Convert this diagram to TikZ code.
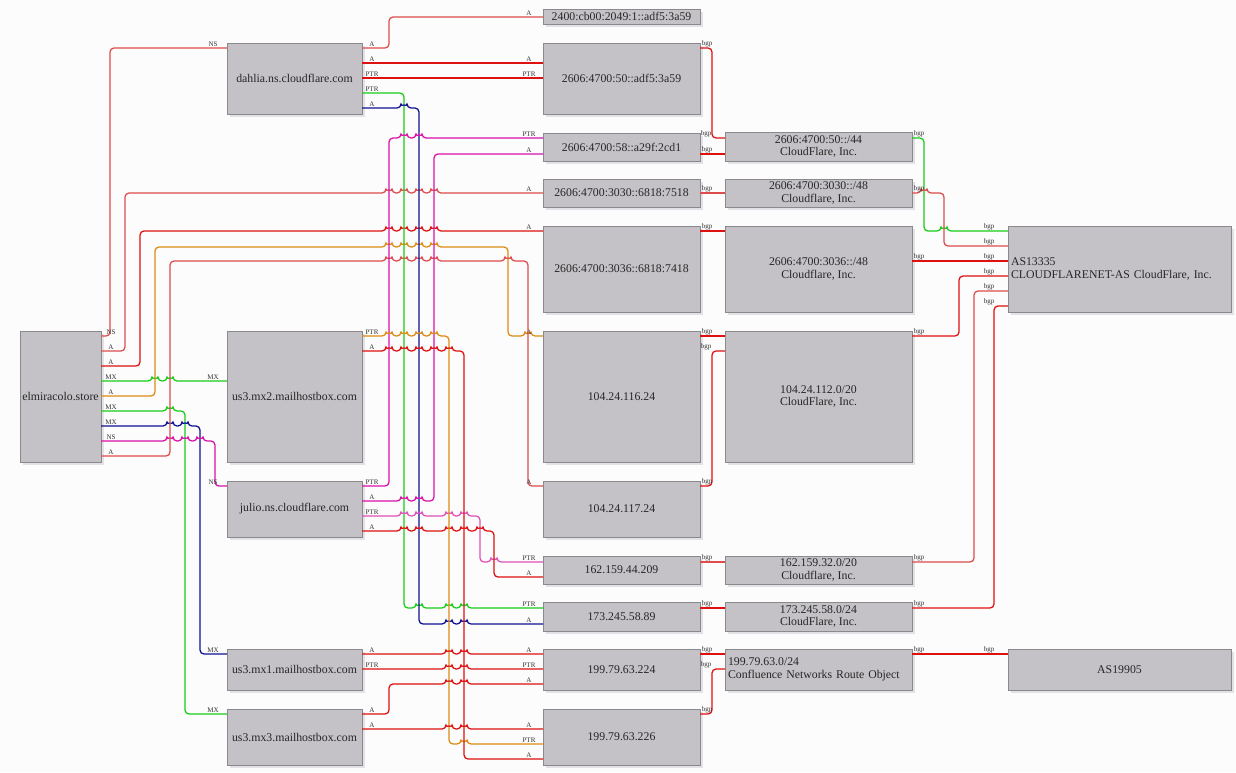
\documentclass[tikz,border=0pt]{standalone}
\usepackage{fontspec}
\setmainfont{Liberation Serif}
\usetikzlibrary{shadows}

\definecolor{boxfill}{RGB}{196,194,198}
\definecolor{boxline}{RGB}{138,138,140}
\definecolor{boxshadow}{RGB}{226,226,230}
\definecolor{pagebg}{RGB}{251,252,251}
\definecolor{lred}{RGB}{222,16,16}
\definecolor{lredpale}{RGB}{222,76,76}
\definecolor{lgreen}{RGB}{24,204,24}
\definecolor{lblue}{RGB}{16,16,150}
\definecolor{lmag}{RGB}{218,16,170}
\definecolor{lmagpale}{RGB}{224,80,184}
\definecolor{lorange}{RGB}{220,140,20}

\tikzset{
  host/.style={draw=boxline, fill=boxfill, line width=0.9pt, inner sep=0pt,
    outer sep=0pt, align=center, text=black!85,
    font=\fontsize{11.8}{12.5}\selectfont,
    drop shadow={shadow xshift=3pt, shadow yshift=-3pt, fill=boxshadow, opacity=1}},
  colA/.style={host, minimum width=81pt},
  colB/.style={host, minimum width=135pt},
  colC/.style={host, minimum width=157pt},
  colD/.style={host, minimum width=187pt},
  colE/.style={host, minimum width=223pt},
  leftD/.style={colD, text width=181pt, inner xsep=3pt, align=left},
  leftE/.style={colE, text width=217pt, inner xsep=3pt, align=left},
  rec/.style={line width=1.25pt, rounded corners=4pt},
  ered/.style={rec, draw=lred},
  eredp/.style={rec, draw=lredpale},
  egreen/.style={rec, draw=lgreen},
  eblue/.style={rec, draw=lblue},
  emag/.style={rec, draw=lmag},
  emagp/.style={rec, draw=lmagpale},
  eorange/.style={rec, draw=lorange},
  elab/.style={font=\fontsize{7}{7}\selectfont, inner sep=0.6pt, anchor=south, text=black!80},
  taillab/.style={elab, xshift=10pt},
  headlab/.style={elab, xshift=-14pt},
  bgptail/.style={elab, xshift=7pt},
  bgphead/.style={elab, xshift=-19pt},
}
% small hops where a horizontal run crosses a vertical one
\newcommand{\hop}[2]{\foreach \j in {#1}{ -- (\j-3,#2) arc[start angle=180, end angle=360, radius=3] }}

\begin{document}
\begin{tikzpicture}[x=1pt, y=-1pt]
\useasboundingbox[fill=pagebg] (0,0) rectangle (1236,772);

% domain and name servers
\node[colA, minimum height=131pt] (elm) at (60.5,396.5) {elmiracolo.store};
\node[colB, minimum height=71pt] (dahlia) at (294.5,78.5) {dahlia.ns.cloudflare.com};
\node[colB, minimum height=131pt] (mxtwo) at (294.5,396.5) {us3.mx2.mailhostbox.com};
\node[colB, minimum height=56pt] (julio) at (294.5,509) {julio.ns.cloudflare.com};
\node[colB, minimum height=41pt] (mxone) at (294.5,669.5) {us3.mx1.mailhostbox.com};
\node[colB, minimum height=56pt] (mxthree) at (294.5,737) {us3.mx3.mailhostbox.com};

% addresses
\node[colC, minimum height=15pt] (vsixa) at (621.5,16.5) {2400:cb00:2049:1::adf5:3a59};
\node[colC, minimum height=71pt] (vsixb) at (621.5,78.5) {2606:4700:50::adf5:3a59};
\node[colC, minimum height=28pt] (vsixc) at (621.5,147) {2606:4700:58::a29f:2cd1};
\node[colC, minimum height=28pt] (vsixd) at (621.5,193) {2606:4700:3030::6818:7518};
\node[colC, minimum height=86pt] (vsixe) at (621.5,269) {2606:4700:3036::6818:7418};
\node[colC, minimum height=131pt] (ipsixteen) at (621.5,396.5) {104.24.116.24};
\node[colC, minimum height=56pt] (ipseventeen) at (621.5,509) {104.24.117.24};
\node[colC, minimum height=28pt] (ipcf) at (621.5,570) {162.159.44.209};
\node[colC, minimum height=29pt] (ipcfb) at (621.5,616.5) {173.245.58.89};
\node[colC, minimum height=41pt] (ipmxa) at (621.5,669.5) {199.79.63.224};
\node[colC, minimum height=56pt] (ipmxb) at (621.5,737) {199.79.63.226};

% prefixes
\node[colD, minimum height=29pt] (pfxfifty) at (818.5,146.5) {2606:4700:50::/44\\CloudFlare, Inc.};
\node[colD, minimum height=28pt] (pfxthirty) at (818.5,193) {2606:4700:3030::/48\\Cloudflare, Inc.};
\node[colD, minimum height=86pt] (pfxsix) at (818.5,269) {2606:4700:3036::/48\\Cloudflare, Inc.};
\node[colD, minimum height=131pt] (pfxoneofour) at (818.5,396.5) {104.24.112.0/20\\CloudFlare, Inc.};
\node[colD, minimum height=28pt] (pfxcf) at (818.5,570) {162.159.32.0/20\\Cloudflare, Inc.};
\node[colD, minimum height=29pt] (pfxcfb) at (818.5,616.5) {173.245.58.0/24\\CloudFlare, Inc.};
\node[leftD, minimum height=41pt] (pfxmx) at (818.5,669.5) {199.79.63.0/24\\Confluence Networks Route Object};

% autonomous systems
\node[leftE, minimum height=86pt] (ascf) at (1119.5,269) {AS13335\\CLOUDFLARENET-AS CloudFlare, Inc.};
\node[colE, minimum height=41pt] (asmx) at (1119.5,669.5) {AS19905};

% records of elmiracolo.store
\draw[eredp] (elm.east|-0,336) node[taillab]{NS} -| (110,48) -- (dahlia.west|-0,48) node[headlab]{NS};
\draw[eredp] (elm.east|-0,351) node[taillab]{A} -| (125,193) \hop{389,404,419,434}{193} -- (vsixd.west|-0,193) node[headlab]{A};
\draw[ered] (elm.east|-0,366) node[taillab]{A} -| (140,231) \hop{389,404,419,434}{231} -- (vsixe.west|-0,231) node[headlab]{A};
\draw[egreen] (elm.east|-0,381) node[taillab]{MX} \hop{155,170}{381} -- (mxtwo.west|-0,381) node[headlab]{MX};
\draw[eorange] (elm.east|-0,396) node[taillab]{A} -| (155,247) \hop{389,404,419,434}{247} -| (508,336) \hop{528}{336} -- (ipsixteen.west|-0,336) node[headlab]{A};
\draw[egreen] (elm.east|-0,411) node[taillab]{MX} \hop{170}{411} -| (185,714) -- (mxthree.west|-0,714) node[headlab]{MX};
\draw[eblue] (elm.east|-0,426) node[taillab]{MX} \hop{170,185}{426} -| (200,654) -- (mxone.west|-0,654) node[headlab]{MX};
\draw[emag] (elm.east|-0,441) node[taillab]{NS} \hop{170,185,200}{441} -| (215,486) -- (julio.west|-0,486) node[headlab]{NS};
\draw[eredp] (elm.east|-0,456) node[taillab]{A} -| (170,261) \hop{389,404,419,434,508}{261} -| (528,486) -- (ipseventeen.west|-0,486) node[headlab]{A};

% records of the name servers
\draw[eredp] (dahlia.east|-0,48) node[taillab]{A} -| (389,17) -- (vsixa.west|-0,17) node[headlab]{A};
\draw[ered] (dahlia.east|-0,63) node[taillab]{A} -- (vsixb.west|-0,63) node[headlab]{A};
\draw[ered] (dahlia.east|-0,78) node[taillab]{PTR} -- (vsixb.west|-0,78) node[headlab]{PTR};
\draw[egreen] (dahlia.east|-0,93) node[taillab]{PTR} -| (404,608) \hop{419,449,464}{608} -- (ipcfb.west|-0,608) node[headlab]{PTR};
\draw[eblue] (dahlia.east|-0,108) node[taillab]{A} \hop{404}{108} -| (419,624) \hop{449,464}{624} -- (ipcfb.west|-0,624) node[headlab]{A};
\draw[emag] (julio.east|-0,486) node[taillab]{PTR} -| (389,138) \hop{404,419}{138} -- (vsixc.west|-0,138) node[headlab]{PTR};
\draw[emag] (julio.east|-0,501) node[taillab]{A} \hop{404,419}{501} -| (434,154) -- (vsixc.west|-0,154) node[headlab]{A};
\draw[emagp] (julio.east|-0,516) node[taillab]{PTR} \hop{404,419,449,464}{516} -| (480,562) \hop{494}{562} -- (ipcf.west|-0,562) node[headlab]{PTR};
\draw[ered] (julio.east|-0,531) node[taillab]{A} \hop{404,419,449,464,480}{531} -| (494,577) -- (ipcf.west|-0,577) node[headlab]{A};

% records of the mail hosts
\draw[eorange] (mxtwo.east|-0,336) node[taillab]{PTR} \hop{389,404,419,434}{336} -| (449,744) \hop{464}{744} -- (ipmxb.west|-0,744) node[headlab]{PTR};
\draw[ered] (mxtwo.east|-0,351) node[taillab]{A} \hop{389,404,419,434,449}{351} -| (464,759) -- (ipmxb.west|-0,759) node[headlab]{A};
\draw[ered] (mxone.east|-0,654) node[taillab]{A} \hop{449,464}{654} -- (ipmxa.west|-0,654) node[headlab]{A};
\draw[ered] (mxone.east|-0,669) node[taillab]{PTR} \hop{449,464}{669} -- (ipmxa.west|-0,669) node[headlab]{PTR};
\draw[ered] (mxthree.east|-0,714) node[taillab]{A} -| (389,684) \hop{449,464}{684} -- (ipmxa.west|-0,684) node[headlab]{A};
\draw[ered] (mxthree.east|-0,729) node[taillab]{A} \hop{449,464}{729} -- (ipmxb.west|-0,729) node[headlab]{A};

% bgp: address to prefix
\draw[ered] (vsixb.east|-0,48) node[bgptail]{bgp} -| (712,138) -- (pfxfifty.west|-0,138) node[bgphead]{bgp};
\draw[ered] (vsixc.east|-0,154) node[bgptail]{bgp} -- (pfxfifty.west|-0,154);
\draw[eredp] (vsixd.east|-0,193) node[bgptail]{bgp} -- (pfxthirty.west|-0,193);
\draw[ered] (vsixe.east|-0,231) node[bgptail]{bgp} -- (pfxsix.west|-0,231);
\draw[ered] (ipsixteen.east|-0,336) node[bgptail]{bgp} -- (pfxoneofour.west|-0,336);
\draw[ered] (ipseventeen.east|-0,486) node[bgptail]{bgp} -| (712,351) -- (pfxoneofour.west|-0,351) node[bgphead]{bgp};
\draw[eredp] (ipcf.east|-0,562) node[bgptail]{bgp} -- (pfxcf.west|-0,562);
\draw[ered] (ipcfb.east|-0,608) node[bgptail]{bgp} -- (pfxcfb.west|-0,608);
\draw[ered] (ipmxa.east|-0,654) node[bgptail]{bgp} -- (pfxmx.west|-0,654);
\draw[ered] (ipmxb.east|-0,714) node[bgptail]{bgp} -| (712,669) -- (pfxmx.west|-0,669) node[bgphead]{bgp};

% bgp: prefix to origin
\draw[egreen] (pfxfifty.east|-0,138) node[bgptail]{bgp} -| (924,231) \hop{944}{231} -- (ascf.west|-0,231) node[bgphead]{bgp};
\draw[eredp] (pfxthirty.east|-0,193) node[bgptail]{bgp} \hop{924}{193} -| (944,246) -- (ascf.west|-0,246) node[bgphead]{bgp};
\draw[ered] (pfxsix.east|-0,261) node[bgptail]{bgp} -- (ascf.west|-0,261) node[bgphead]{bgp};
\draw[ered] (pfxoneofour.east|-0,336) node[bgptail]{bgp} -| (959,276) -- (ascf.west|-0,276) node[bgphead]{bgp};
\draw[eredp] (pfxcf.east|-0,562) node[bgptail]{bgp} -| (974,291) -- (ascf.west|-0,291) node[bgphead]{bgp};
\draw[ered] (pfxcfb.east|-0,608) node[bgptail]{bgp} -| (994,306) -- (ascf.west|-0,306) node[bgphead]{bgp};
\draw[ered] (pfxmx.east|-0,654) node[bgptail]{bgp} -- (asmx.west|-0,654) node[bgphead]{bgp};
\end{tikzpicture}
\end{document}
